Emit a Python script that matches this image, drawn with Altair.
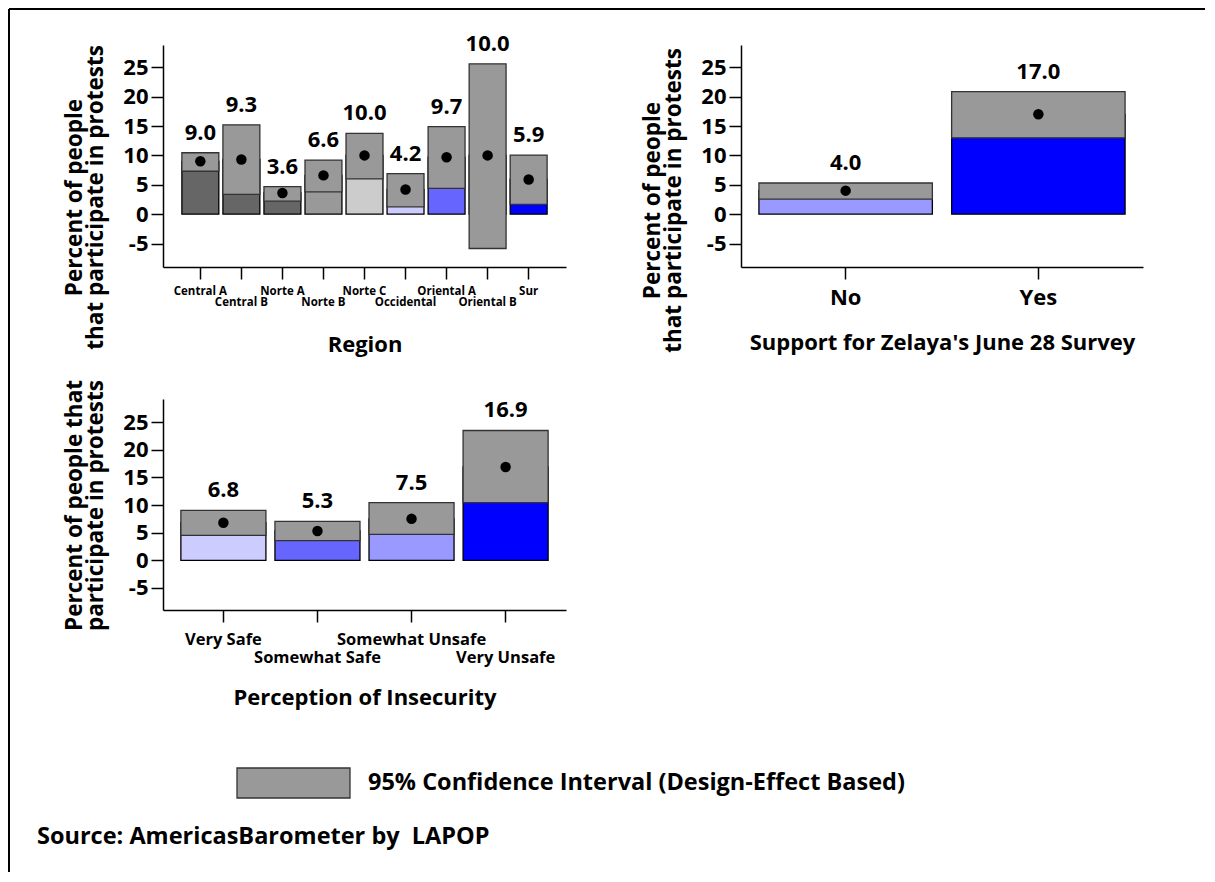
import json
import altair as alt
import pandas as pd

FONT = "Open Sans"

# ---------------- data ----------------
region_cats = ["Central A", "Central B", "Norte A", "Norte B", "Norte C",
               "Occidental", "Oriental A", "Oriental B", "Sur"]
region_mean = [9.0, 9.3, 3.6, 6.6, 10.0, 4.2, 9.7, 10.0, 5.9]
region_low = [7.3, 3.35, 2.2, 3.8, 6.0, 1.25, 4.4, -5.85, 1.65]
region_high = [10.45, 15.2, 4.7, 9.2, 13.75, 6.9, 14.9, 25.6, 10.05]
region_colors = ["#666666", "#666666", "#666666", "#999999", "#cccccc",
                 "#ccccff", "#6666ff", "#9999ff", "#0000ff"]

zelaya_cats = ["No", "Yes"]
zelaya_mean = [4.0, 17.0]
zelaya_low = [2.55, 13.0]
zelaya_high = [5.3, 20.85]
zelaya_colors = ["#9999ff", "#0000ff"]

insec_cats = ["Very Safe", "Somewhat Safe", "Somewhat Unsafe", "Very Unsafe"]
insec_mean = [6.8, 5.3, 7.5, 16.9]
insec_low = [4.5, 3.55, 4.7, 10.45]
insec_high = [9.05, 7.05, 10.45, 23.5]
insec_colors = ["#ccccff", "#6666ff", "#9999ff", "#0000ff"]

y_ticks = [-5, 0, 5, 10, 15, 20, 25]

legend_text = "95% Confidence Interval (Design-Effect Based)"
source_text = "Source: AmericasBarometer by \u00a0LAPOP"


def make_panel(cats, mean, low, high, colors, width, height, ydom, ytitle,
               ytitle_y, xtitle, pi, po, xlab_size, xlab_lh, xlab_pad,
               xtitle_pad, stagger, extra_layers=()):
    df = pd.DataFrame({"cat": cats, "mean": mean, "low": low, "high": high})
    df["label"] = [f"{v:.1f}" for v in mean]
    if stagger:
        odd = json.dumps(cats[1::2])
        lab_expr = f"indexof({odd}, datum.value) >= 0 ? ['', datum.value] : datum.value"
    else:
        lab_expr = "datum.value"
    xaxis = alt.Axis(title=xtitle, labelAngle=0, tickSize=12,
                     labelFontSize=xlab_size, labelLineHeight=xlab_lh,
                     labelPadding=xlab_pad, labelExpr=lab_expr,
                     labelFontWeight="bold", labelOverlap=False,
                     titlePadding=xtitle_pad, titleFontSize=22,
                     titleFontWeight="bold")
    yaxis = alt.Axis(title=ytitle, values=y_ticks, labelExpr="datum.value + ''",
                     tickSize=12, labelPadding=3, labelFontSize=22,
                     labelFontWeight="bold", titleFontSize=22.5,
                     titleFontWeight="bold", titleLineHeight=21,
                     titlePadding=15, titleY=ytitle_y, grid=False)
    yscale = alt.Scale(domain=ydom, nice=False, zero=False)
    xenc = alt.X("cat:N", sort=cats,
                 scale=alt.Scale(paddingInner=pi, paddingOuter=po), axis=xaxis)
    base = alt.Chart(df)
    color_bar = base.mark_bar(stroke="black", strokeWidth=1.3).encode(
        x=xenc,
        y=alt.Y("mean:Q", scale=yscale, axis=yaxis),
        y2=alt.datum(0),
        color=alt.Color("cat:N", scale=alt.Scale(domain=cats, range=colors),
                        legend=None),
    )
    ci = base.mark_bar(fill="#999999", stroke="#333333", strokeWidth=1.3).encode(
        x=xenc,
        y=alt.Y("low:Q", scale=yscale, axis=yaxis),
        y2="high:Q",
    )
    dots = base.mark_circle(size=110, color="black", opacity=1).encode(
        x=xenc,
        y=alt.Y("mean:Q", scale=yscale, axis=yaxis),
    )
    labels = base.mark_text(dy=-13, baseline="alphabetic", fontSize=22,
                            fontWeight="bold", font=FONT, color="black").encode(
        x=xenc,
        y=alt.Y("high:Q", scale=yscale, axis=yaxis),
        text="label:N",
    )
    return alt.layer(color_bar, ci, dots, labels, *extra_layers).properties(
        width=width, height=height)


# frame (top and left edges) drawn in first panel
one = pd.DataFrame({"t": [legend_text], "s": [source_text]})
frame_top = alt.Chart(one).mark_rule(color="black", strokeWidth=2).encode(
    x=alt.value(-154), x2=alt.value(1042), y=alt.value(-36))
frame_left = alt.Chart(one).mark_rule(color="black", strokeWidth=2).encode(
    x=alt.value(-154), y=alt.value(-36), y2=alt.value(827))

# legend + source drawn under the third panel
leg_rect = alt.Chart(one).mark_rect(fill="#999999", stroke="#333333",
                                    strokeWidth=1.3).encode(
    x=alt.value(74), x2=alt.value(187), y=alt.value(369), y2=alt.value(399))
leg_txt = alt.Chart(one).mark_text(align="left", baseline="middle",
                                   fontSize=23.5, fontWeight="bold", font=FONT,
                                   color="black").encode(
    x=alt.value(205), y=alt.value(384), text="t:N")
src_txt = alt.Chart(one).mark_text(align="left", baseline="middle",
                                   fontSize=23.5, fontWeight="bold", font=FONT,
                                   color="black").encode(
    x=alt.value(-126), y=alt.value(438), text="s:N")

p1 = make_panel(region_cats, region_mean, region_low, region_high,
                region_colors, 403, 222, [-9, 28.8],
                ["Percent of people", "that participate in protests"], 152,
                "Region", 0.1, 0.46, 11.5, 11.5, 6, 26, True,
                extra_layers=(frame_top, frame_left))
p2 = make_panel(zelaya_cats, zelaya_mean, zelaya_low, zelaya_high,
                zelaya_colors, 402, 222, [-9, 28.8],
                ["Percent of people", "that participate in protests"], 155,
                "Support for Zelaya's June 28 Survey", 0.1, 0.093, 22, 22, 8,
                24, False)
p3 = make_panel(insec_cats, insec_mean, insec_low, insec_high, insec_colors,
                403, 211, [-9, 29.2],
                ["Percent of people that", "participate in protests"], 106,
                "Perception of Insecurity", 0.096, 0.19, 16.5, 18, 9, 22, True,
                extra_layers=(leg_rect, leg_txt, src_txt))

chart = alt.concat(p1, p2, p3, columns=2,
                   spacing={"row": 132, "column": 175},
                   bounds="flush").resolve_scale(
    color="independent").properties(padding=0).configure(
    font=FONT).configure_view(strokeWidth=0, stroke="transparent").configure_axis(
    domainColor="black", tickColor="black", labelColor="black",
    titleColor="black", domainWidth=1.5, tickWidth=1.5,
    labelFont=FONT, titleFont=FONT, labelFontWeight="bold",
    titleFontWeight="bold")

chart.save("out.html", embed_options={"renderer": "svg", "actions": False})
